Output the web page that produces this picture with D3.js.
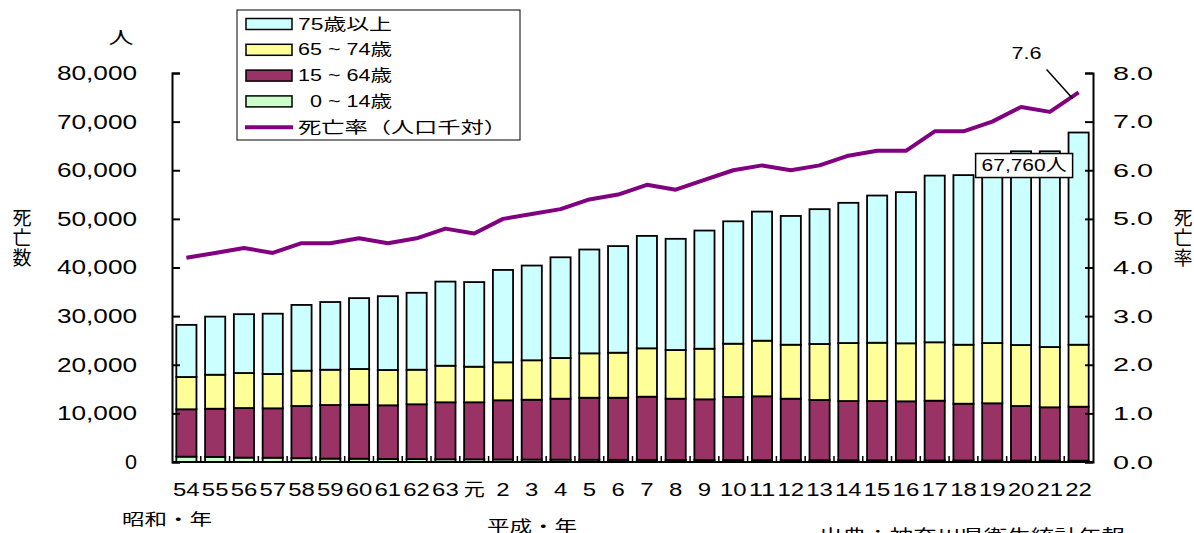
<!DOCTYPE html>
<html>
<head>
<meta charset="utf-8">
<script src="https://cdn.jsdelivr.net/npm/d3@7"></script>
<style>
  body { margin: 0; background: #fff; }
  svg { display: block; }
  text { font-family: "Liberation Sans", Arial, "Noto Sans CJK JP", sans-serif; fill: #000; }
</style>
</head>
<body>
<svg id="chart" width="1194" height="533"></svg>
<script>
// 年次（昭和54年～平成22年）
const years = ["54","55","56","57","58","59","60","61","62","63","元",
  "2","3","4","5","6","7","8","9","10","11","12","13","14","15","16","17","18","19","20","21","22"];

// 年齢階級別死亡数（人）
const age0to14  = [1100,1050,900,880,780,700,680,620,600,560,550,520,500,480,460,450,
  440,420,400,390,380,370,360,350,340,330,320,310,300,290,280,270];
const age15to64 = [9740,9910,10200,10160,10740,11020,11100,11040,11270,11720,11730,12170,12310,12540,12760,12770,
  12990,12600,12490,12980,13130,12650,12390,12190,12200,12150,12290,11680,11770,11230,10970,11100];
const age65to74 = [6640,6990,7200,7060,7260,7260,7350,7260,7110,7520,7320,7810,8110,8370,9130,9260,
  9950,10010,10410,10960,11440,11100,11520,11930,11990,11930,12010,12130,12400,12540,12400,12750];
const age75plus = [10720,11950,12100,12400,13520,13920,14570,15180,15820,17300,17400,19000,19480,20710,21350,21920,
  23120,22870,24300,25170,26550,26480,27730,28830,30270,31090,34280,34880,37030,39840,40250,43640];

// 死亡率（人口千対）
const deathRate = [4.2,4.3,4.4,4.3,4.5,4.5,4.6,4.5,4.6,4.8,4.7,5.0,5.1,5.2,5.4,5.5,
  5.7,5.6,5.8,6.0,6.1,6.0,6.1,6.3,6.4,6.4,6.8,6.8,7.0,7.3,7.2,7.6];

// 目盛
const countTicks = [0,10000,20000,30000,40000,50000,60000,70000,80000];
const rateTicks = [0,1,2,3,4,5,6,7,8];

// 系列（積み上げ順）
const seriesKeys   = ["a0","a15","a65","a75"];
const seriesLabels = ["0 ~ 14歳","15 ~ 64歳","65 ~ 74歳","75歳以上"];
const seriesColors = ["#CCFFCC","#993366","#FFFF99","#CCFFFF"];
const lineColor = "#800080";

const rows = years.map((yr, i) => ({
  year: yr, a0: age0to14[i], a15: age15to64[i], a65: age65to74[i], a75: age75plus[i], rate: deathRate[i]
}));

const svg = d3.select("#chart");
const plotLeft = 172, plotRight = 1093, plotTop = 73, plotBottom = 462;

const x = d3.scaleBand().domain(years).range([plotLeft, plotRight]).paddingInner(0.3).paddingOuter(0.15);
const y = d3.scaleLinear().domain([0, 80000]).range([plotBottom, plotTop]);
const yR = d3.scaleLinear().domain([0, 8]).range([plotBottom, plotTop]);

// 文字幅を整える
function fit(sel, w) {
  sel.attr("textLength", w).attr("lengthAdjust", "spacingAndGlyphs");
}

// 積み上げ棒
const stack = d3.stack().keys(seriesKeys)(rows);
svg.append("g").selectAll("g").data(stack).join("g")
  .attr("fill", (d, i) => seriesColors[i])
  .selectAll("rect").data(d => d).join("rect")
  .attr("x", d => x(d.data.year))
  .attr("width", x.bandwidth())
  .attr("y", d => y(d[1]))
  .attr("height", d => y(d[0]) - y(d[1]))
  .attr("stroke", "#000")
  .attr("stroke-width", 1.8);

// 左軸
const gL = svg.append("g").attr("transform", `translate(${plotLeft},0)`)
  .call(d3.axisLeft(y).tickValues(countTicks).tickSize(-8).tickPadding(35)
    .tickFormat(d3.format(",")));
gL.select(".domain").attr("stroke-width", 2);
gL.selectAll(".tick line").attr("stroke-width", 2);
gL.selectAll(".tick text").attr("font-size", 20)
  .each(function(d) { fit(d3.select(this), d === 0 ? 12 : 80); });

// 右軸
const gR = svg.append("g").attr("transform", `translate(${plotRight},0)`)
  .call(d3.axisRight(yR).tickValues(rateTicks).tickSize(-8).tickPadding(20)
    .tickFormat(d3.format(".1f")));
gR.select(".domain").attr("stroke-width", 2);
gR.selectAll(".tick line").attr("stroke-width", 2);
gR.selectAll(".tick text").attr("font-size", 19).call(fit, 40);

// 横軸
const step = x.step();
svg.append("line").attr("x1", plotLeft).attr("x2", plotRight).attr("y1", plotBottom).attr("y2", plotBottom)
  .attr("stroke", "#000").attr("stroke-width", 2);
svg.append("g").selectAll("line").data(years.slice(1)).join("line")
  .attr("x1", d => x(d) - step * x.paddingInner() / 2)
  .attr("x2", d => x(d) - step * x.paddingInner() / 2)
  .attr("y1", plotBottom).attr("y2", plotBottom - 6)
  .attr("stroke", "#000").attr("stroke-width", 1.5);
svg.append("g").selectAll("text").data(years).join("text")
  .attr("x", d => x(d) + x.bandwidth() / 2)
  .attr("y", 490).attr("dy", "0.35em")
  .attr("text-anchor", "middle").attr("font-size", 18)
  .each(function(d) { fit(d3.select(this), d === "元" ? 21 : d.length * 13.3); })
  .text(d => d);

// 死亡率の折れ線
const line = d3.line().x(d => x(d.year) + x.bandwidth() / 2).y(d => yR(d.rate));
svg.append("path").datum(rows).attr("d", line)
  .attr("fill", "none").attr("stroke", lineColor).attr("stroke-width", 4)
  .attr("stroke-linejoin", "round");

// 最新年の注記
const last = rows[rows.length - 1];
const lx = x(last.year) + x.bandwidth() / 2;
const total = seriesKeys.reduce((s, k) => s + last[k], 0);
svg.append("line")
  .attr("x1", lx - 32).attr("y1", yR(last.rate) - 23)
  .attr("x2", lx - 6).attr("y2", yR(last.rate) + 6)
  .attr("stroke", "#000").attr("stroke-width", 1.5);
svg.append("text").attr("x", lx - 52).attr("y", yR(last.rate) - 39).attr("dy", "0.35em")
  .attr("text-anchor", "middle").attr("font-size", 17).call(fit, 30)
  .text(d3.format(".1f")(last.rate));

const by = y(total);
svg.append("rect").attr("x", lx - 103).attr("y", by + 21).attr("width", 97).attr("height", 24)
  .attr("fill", "#fff").attr("stroke", "#000").attr("stroke-width", 1.5);
svg.append("text").attr("x", lx - 97).attr("y", by + 33).attr("dy", "0.35em")
  .attr("font-size", 17).call(fit, 85)
  .text(d3.format(",")(total) + "人");

// 軸見出し
svg.append("text").attr("x", 121).attr("y", 38).attr("dy", "0.35em")
  .attr("text-anchor", "middle").attr("font-size", 17).call(fit, 25).text("人");
const ttlL = svg.append("text").attr("font-size", 19).attr("text-anchor", "middle");
["死","亡","数"].forEach((c, i) => ttlL.append("tspan").attr("x", 22).attr("y", 225 + i * 20).text(c));
const ttlR = svg.append("text").attr("font-size", 19).attr("text-anchor", "middle");
["死","亡","率"].forEach((c, i) => ttlR.append("tspan").attr("x", 1183).attr("y", 225 + i * 20).text(c));

svg.append("text").attr("x", 122).attr("y", 519).attr("dy", "0.35em")
  .attr("font-size", 16).call(fit, 90).text("昭和・年");
svg.append("text").attr("x", 487).attr("y", 526).attr("dy", "0.35em")
  .attr("font-size", 16).call(fit, 90).text("平成・年");
svg.append("text").attr("x", 819).attr("y", 543)
  .attr("font-size", 18).call(fit, 306).text("出典：神奈川県衛生統計年報");

// 凡例
const lg = svg.append("g");
lg.append("rect").attr("x", 237).attr("y", 10).attr("width", 283).attr("height", 130)
  .attr("fill", "#fff").attr("stroke", "#000").attr("stroke-width", 1);
const legendItems = [
  { label: seriesLabels[3], color: seriesColors[3], w: 94, dx: 0 },
  { label: seriesLabels[2], color: seriesColors[2], w: 94, dx: 0 },
  { label: seriesLabels[1], color: seriesColors[1], w: 94, dx: 0 },
  { label: seriesLabels[0], color: seriesColors[0], w: 82, dx: 12 }
];
legendItems.forEach((it, i) => {
  const cy = 24 + i * 25.8;
  lg.append("rect").attr("x", 246).attr("y", cy - 5.5).attr("width", 46).attr("height", 11)
    .attr("fill", it.color).attr("stroke", "#000").attr("stroke-width", 1.5);
  lg.append("text").attr("x", 298 + it.dx).attr("y", cy).attr("dy", "0.35em")
    .attr("font-size", 16).call(fit, it.w).text(it.label);
});
const ly = 24 + 4 * 25.8;
lg.append("line").attr("x1", 245).attr("x2", 293).attr("y1", ly).attr("y2", ly)
  .attr("stroke", lineColor).attr("stroke-width", 4);
lg.append("text").attr("x", 298).attr("y", ly).attr("dy", "0.35em")
  .attr("font-size", 16).call(fit, 209).text("死亡率（人口千対）");
</script>
</body>
</html>
